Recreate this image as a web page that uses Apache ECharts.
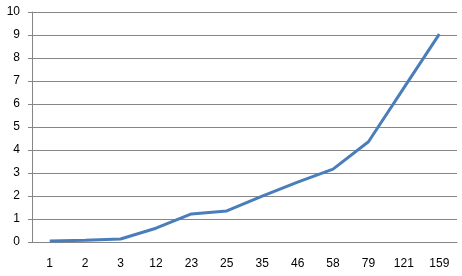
<!DOCTYPE html>
<html><head><meta charset="utf-8">
<script src="https://cdn.jsdelivr.net/npm/echarts@6/dist/echarts.min.js"></script>
<style>html,body{margin:0;padding:0;background:#fff}#c{width:462px;height:276px}</style>
</head><body><div id="c"></div>
<script>
const categories = ['1','2','3','12','23','25','35','46','58','79','121','159'];
const values = [0.04, 0.08, 0.13, 0.6, 1.22, 1.35, 1.99, 2.6, 3.17, 4.36, 6.7, 9.04];
const chart = echarts.init(document.getElementById('c'));
chart.setOption({
  animation: false,
  grid: {left: 32, right: 5, top: 12, bottom: 34},
  xAxis: {
    type: 'category', data: categories,
    axisLine: {lineStyle: {color: '#868686', width: 1}},
    axisTick: {length: 4, lineStyle: {color: '#868686'}},
    axisLabel: {color: '#000', fontFamily: 'Liberation Sans', fontSize: 12, margin: 16, interval: 0}
  },
  yAxis: {
    type: 'value', min: 0, max: 10, interval: 1,
    axisLine: {show: true, lineStyle: {color: '#868686', width: 1}},
    axisTick: {show: true, length: 4, lineStyle: {color: '#868686'}},
    axisLabel: {color: '#000', fontFamily: 'Liberation Sans', fontSize: 12, margin: 12},
    splitLine: {lineStyle: {color: '#868686', width: 1}}
  },
  series: [{
    type: 'line', data: values, showSymbol: false, symbol: 'none',
    lineStyle: {color: '#4A7EBB', width: 3}
  }]
});
</script></body></html>
